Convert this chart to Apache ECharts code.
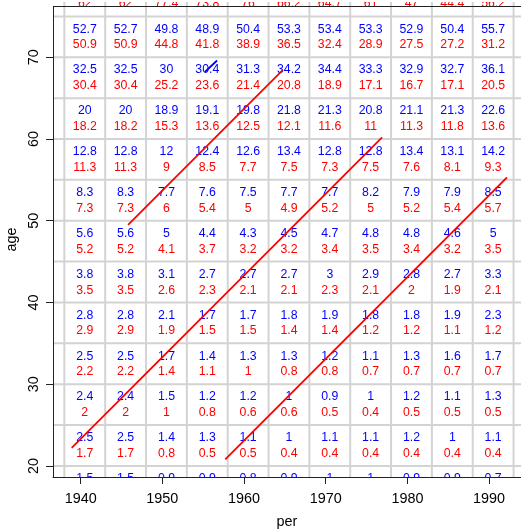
<!DOCTYPE html>
<html>
<head>
<meta charset="utf-8">
<script src="https://cdn.jsdelivr.net/npm/echarts@6/dist/echarts.min.js"></script>
<style>
  html, body { margin: 0; padding: 0; background: #fff; }
  #chart { width: 521px; height: 529px; }
</style>
</head>
<body>
<div id="chart"></div>
<script>
// Lexis-style table: rates per 5-year period x 5-year age band.
// Column centres (calendar period) and row centres (age band).
const periods = [1940.5, 1945.5, 1950.5, 1955.5, 1960.5, 1965.5, 1970.5, 1975.5, 1980.5, 1985.5, 1990.5];
const ages = [77.5, 72.5, 67.5, 62.5, 57.5, 52.5, 47.5, 42.5, 37.5, 32.5, 27.5, 22.5, 17.5];

// Upper (blue) figure in each cell, one list per age band.
const blueRates = [
  [null, null, null, null, null, null, null, null, null, null, null],
  [52.7, 52.7, 49.8, 48.9, 50.4, 53.3, 53.4, 53.3, 52.9, 50.4, 55.7],
  [32.5, 32.5, 30, 30.4, 31.3, 34.2, 34.4, 33.3, 32.9, 32.7, 36.1],
  [20, 20, 18.9, 19.1, 19.8, 21.8, 21.3, 20.8, 21.1, 21.3, 22.6],
  [12.8, 12.8, 12, 12.4, 12.6, 13.4, 12.8, 12.8, 13.4, 13.1, 14.2],
  [8.3, 8.3, 7.7, 7.6, 7.5, 7.7, 7.7, 8.2, 7.9, 7.9, 8.5],
  [5.6, 5.6, 5, 4.4, 4.3, 4.5, 4.7, 4.8, 4.8, 4.6, 5],
  [3.8, 3.8, 3.1, 2.7, 2.7, 2.7, 3, 2.9, 2.8, 2.7, 3.3],
  [2.8, 2.8, 2.1, 1.7, 1.7, 1.8, 1.9, 1.8, 1.8, 1.9, 2.3],
  [2.5, 2.5, 1.7, 1.4, 1.3, 1.3, 1.2, 1.1, 1.3, 1.6, 1.7],
  [2.4, 2.4, 1.5, 1.2, 1.2, 1, 0.9, 1, 1.2, 1.1, 1.3],
  [2.5, 2.5, 1.4, 1.3, 1.1, 1, 1.1, 1.1, 1.2, 1, 1.1],
  [1.5, 1.5, 0.9, 0.9, 0.8, 0.9, 1, 1, 0.9, 0.9, 0.7]
];

// Lower (red) figure in each cell, one list per age band.
const redRates = [
  [62, 62, 77.4, 73.8, 76, 66.2, 64.7, 61, 47, 44.4, 56.2],
  [50.9, 50.9, 44.8, 41.8, 38.9, 36.5, 32.4, 28.9, 27.5, 27.2, 31.2],
  [30.4, 30.4, 25.2, 23.6, 21.4, 20.8, 18.9, 17.1, 16.7, 17.1, 20.5],
  [18.2, 18.2, 15.3, 13.6, 12.5, 12.1, 11.6, 11, 11.3, 11.8, 13.6],
  [11.3, 11.3, 9, 8.5, 7.7, 7.5, 7.3, 7.5, 7.6, 8.1, 9.3],
  [7.3, 7.3, 6, 5.4, 5, 4.9, 5.2, 5, 5.2, 5.4, 5.7],
  [5.2, 5.2, 4.1, 3.7, 3.2, 3.2, 3.4, 3.5, 3.4, 3.2, 3.5],
  [3.5, 3.5, 2.6, 2.3, 2.1, 2.1, 2.3, 2.1, 2, 1.9, 2.1],
  [2.9, 2.9, 1.9, 1.5, 1.5, 1.4, 1.4, 1.2, 1.2, 1.1, 1.2],
  [2.2, 2.2, 1.4, 1.1, 1, 0.8, 0.8, 0.7, 0.7, 0.7, 0.7],
  [2, 2, 1, 0.8, 0.6, 0.6, 0.5, 0.4, 0.5, 0.5, 0.5],
  [1.7, 1.7, 0.8, 0.5, 0.5, 0.4, 0.4, 0.4, 0.4, 0.4, 0.4],
  [null, null, null, null, null, null, null, null, null, null, null]
];

// Cell boundaries.
const gridPeriods = [1938, 1943, 1948, 1953, 1958, 1963, 1968, 1973, 1978, 1983, 1988, 1993];
const gridAges = [20, 25, 30, 35, 40, 45, 50, 55, 60, 65, 70, 75];

// Axis ticks.
const perTicks = [1940, 1950, 1960, 1970, 1980, 1990];
const ageTicks = [20, 30, 40, 50, 60, 70];

// Cohort life lines (period, age).
const cohortA = [[1938.9, 22.2], [1976.9, 60.2]];
const cohortB = [[1945.8, 49.5], [1964.7, 68.4]];
const cohortC = [[1957.7, 20.8], [1992.2, 55.3]];
const cohortBlue = [[1955.2, 68.2], [1956.7, 69.6]];

// Plot window.
const perMin = 1936.61, perMax = 1993.91;
const ageMin = 18.65, ageMax = 76.76, frameTop = 76.28;

const FONT = 'Liberation Sans, Arial, Helvetica, sans-serif';

function cellData(rows) {
  const out = [];
  rows.forEach((row, i) => {
    row.forEach((v, j) => {
      if (v !== null) out.push([periods[j], ages[i], v]);
    });
  });
  return out;
}

function textSeries(name, rows, color, dy) {
  return {
    name: name,
    type: 'custom',
    clip: true,
    z: 3,
    data: cellData(rows),
    renderItem: function (params, api) {
      const p = api.coord([api.value(0), api.value(1)]);
      return {
        type: 'text',
        x: p[0],
        y: p[1] + dy,
        style: {
          text: String(api.value(2)),
          fill: color,
          fontSize: 12.3,
          fontFamily: FONT,
          align: 'center',
          verticalAlign: 'middle'
        }
      };
    }
  };
}

function lineSeries(pts, color) {
  return {
    type: 'line',
    data: pts,
    symbol: 'none',
    clip: true,
    z: 5,
    silent: true,
    lineStyle: { color: color, width: 1.8 },
    animation: false
  };
}

const chart = echarts.init(document.getElementById('chart'), null, { renderer: 'canvas' });

const axisText = { color: '#000', fontSize: 14.4, fontFamily: FONT };
const plain = v => String(v);

chart.setOption({
  animation: false,
  backgroundColor: '#fff',
  grid: { left: 53, right: 0, top: 2, bottom: 52, outerBoundsMode: 'none', containLabel: false },
  xAxis: {
    type: 'value',
    min: perMin,
    max: perMax,
    name: 'per',
    nameLocation: 'middle',
    nameGap: 38,
    nameTextStyle: axisText,
    axisLine: { show: true, onZero: false, lineStyle: { color: '#222', width: 1 } },
    axisTick: { show: true, customValues: perTicks, length: 7, lineStyle: { color: '#222' } },
    axisLabel: Object.assign({ customValues: perTicks, margin: 15, hideOverlap: false, formatter: plain }, axisText),
    splitLine: { show: false }
  },
  yAxis: {
    type: 'value',
    min: ageMin,
    max: ageMax,
    name: 'age',
    nameLocation: 'middle',
    nameGap: 31,
    nameTextStyle: axisText,
    axisLine: { show: false },
    axisTick: { show: true, customValues: ageTicks, length: 7, lineStyle: { color: '#222' } },
    axisLabel: Object.assign({ customValues: ageTicks, margin: 12, rotate: 90, formatter: plain }, axisText),
    splitLine: { show: false }
  },
  series: [
    {
      name: 'period borders',
      type: 'custom',
      clip: true,
      z: 1,
      data: gridPeriods.map(p => [p, ageMin]),
      renderItem: function (params, api) {
        const x = api.coord([api.value(0), ageMin])[0];
        const cs = params.coordSys;
        return {
          type: 'line',
          shape: { x1: x, y1: cs.y, x2: x, y2: cs.y + cs.height },
          style: { stroke: '#d3d3d3', lineWidth: 2 }
        };
      }
    },
    {
      name: 'age borders',
      type: 'custom',
      clip: true,
      z: 1,
      data: gridAges.map(a => [perMin, a]),
      renderItem: function (params, api) {
        const y = api.coord([perMin, api.value(1)])[1];
        const cs = params.coordSys;
        return {
          type: 'line',
          shape: { x1: cs.x, y1: y, x2: cs.x + cs.width, y2: y },
          style: { stroke: '#d3d3d3', lineWidth: 2 }
        };
      },
      markLine: {
        silent: true,
        symbol: 'none',
        label: { show: false },
        lineStyle: { color: '#222', width: 1, type: 'solid' },
        data: [
          [{ coord: [perMin, frameTop] }, { coord: [perMax, frameTop] }],
          [{ coord: [perMin, ageMin] }, { coord: [perMin, frameTop] }]
        ]
      }
    },
    textSeries('blue', blueRates, '#0000ff', -7.6),
    textSeries('red', redRates, '#ff0000', 8.1),
    lineSeries(cohortA, '#ff0000'),
    lineSeries(cohortB, '#ff0000'),
    lineSeries(cohortC, '#ff0000'),
    lineSeries(cohortBlue, '#0000ff')
  ]
});
</script>
</body>
</html>
